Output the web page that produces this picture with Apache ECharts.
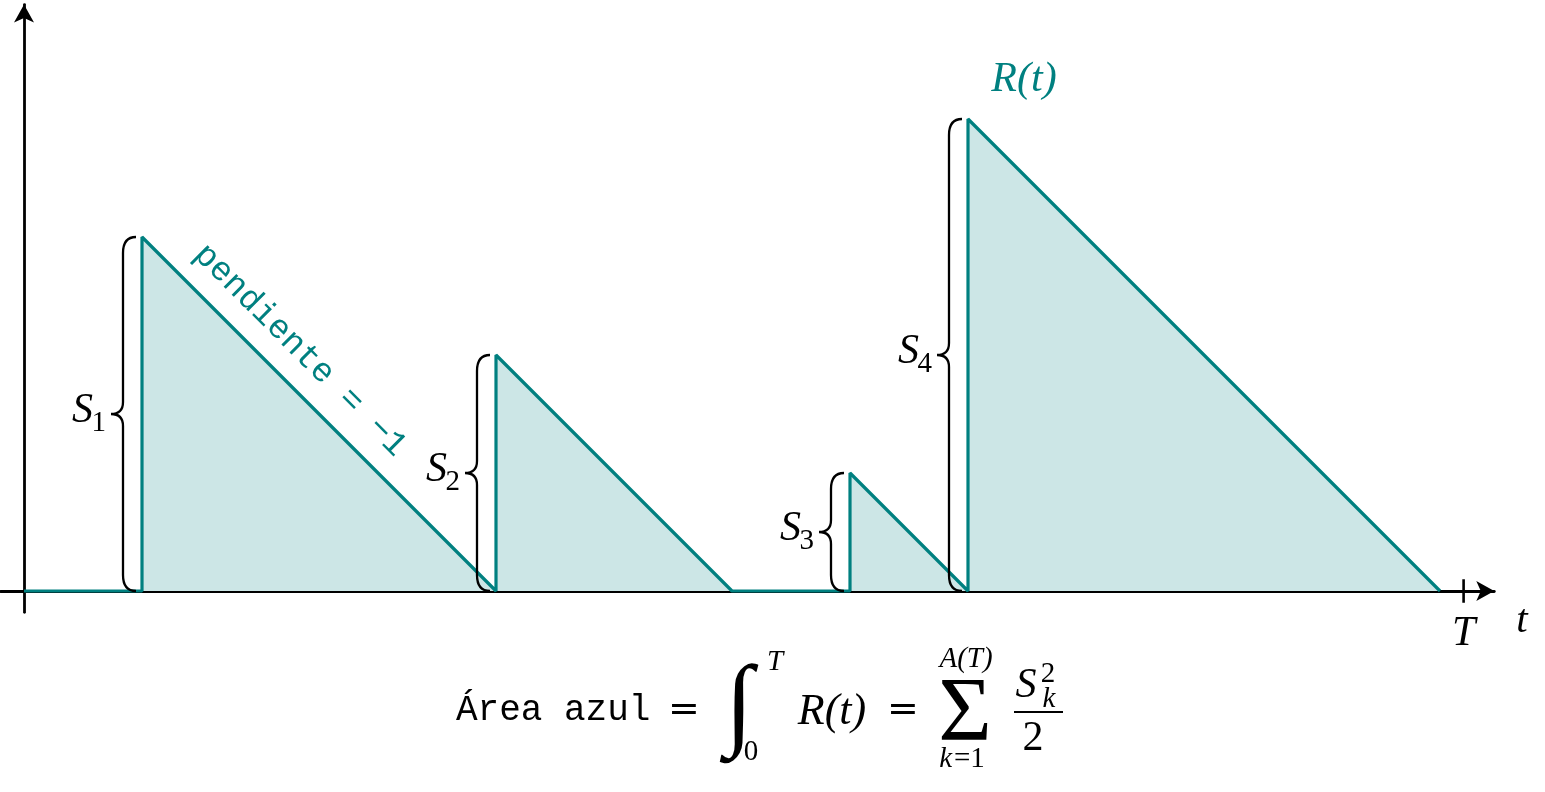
<!DOCTYPE html>
<html><head><meta charset="utf-8">
<script src="https://cdn.jsdelivr.net/npm/echarts@6/dist/echarts.min.js"></script>
<style>html,body{margin:0;padding:0;background:#fff}#c{width:1545px;height:792px}</style>
</head><body><div id="c"></div>
<script>
// ---- data ----
const pathT = [0, 1, 1, 4, 4, 6, 7, 7, 8, 8, 12];
const pathR = [0, 0, 3, 0, 2, 0, 0, 1, 0, 4, 0];
const jumpTimes = [1, 4, 7, 8];
const jumpSizes = [3, 2, 1, 4];
const jumpNames = ['1', '2', '3', '4'];
const horizonT = 12.2;
const xRange = [-0.2, 12.46];
const yRange = [-0.18, 4.97];

// ---- layout ----
const U = 118, OX = 24, OY = 591;
const TEAL = '#008080';
const SERIF = 'Liberation Serif';
const MONO = 'Liberation Mono';

const chart = echarts.init(document.getElementById('c'), null, {renderer: 'canvas'});

const gridLeft = OX + xRange[0] * U;
const gridTop = OY - yRange[1] * U;
const gridW = (xRange[1] - xRange[0]) * U;
const gridH = (yRange[1] - yRange[0]) * U;

function T(text, x, y, o) {
  return Object.assign({type: 'text', x: x, y: y}, o && o.el || {}, {style: Object.assign({
    text: text, fill: '#000', fontFamily: SERIF, fontStyle: 'italic', fontSize: 41,
    align: 'center', verticalAlign: 'middle'
  }, o && o.s || {})});
}
const up = {fontStyle: 'normal'};
const small = {fontSize: 29};

const braceData = jumpTimes.map((t, i) => [t, jumpSizes[i], i]);
const lbl = {show: true, position: 'inside', fontFamily: SERIF, fontStyle: 'italic', fontSize: 42, opacity: 1};

chart.setOption({
  animation: false,
  grid: {left: gridLeft, top: gridTop, width: gridW, height: gridH},
  xAxis: {
    type: 'value', min: xRange[0], max: xRange[1],
    splitLine: {show: false}, axisTick: {show: false}, axisLabel: {show: false},
    axisLine: {onZero: true, lineStyle: {color: '#000', width: 2.8}, symbol: ['none', 'arrow'], symbolSize: [15, 18]},
    name: 't', nameLocation: 'end', nameGap: 22,
    nameTextStyle: {fontFamily: SERIF, fontStyle: 'italic', fontSize: 41, color: '#000', align: 'left', verticalAlign: 'top', padding: [10, 0, 0, 0]}
  },
  yAxis: {
    type: 'value', min: yRange[0], max: yRange[1],
    splitLine: {show: false}, axisTick: {show: false}, axisLabel: {show: false},
    axisLine: {onZero: true, lineStyle: {color: '#000', width: 2.8}, symbol: ['none', 'arrow'], symbolSize: [15, 18]}
  },
  series: [
    {
      type: 'line', data: pathT.map((t, i) => [t, pathR[i]]), symbol: 'none', z: 3,
      lineStyle: {color: TEAL, width: 3.2}, areaStyle: {color: '#cce6e6', opacity: 1}
    },
    { // tick at T
      type: 'line', data: [[horizonT, -0.1], [horizonT, 0.1]], symbol: 'none', z: 3,
      lineStyle: {color: '#000', width: 2.6}
    },
    { // braces
      type: 'custom', data: braceData, z: 4,
      renderItem: function (params, api) {
        const t = api.value(0), s = api.value(1), idx = api.value(2);
        const b = api.coord([t, 0]), tp = api.coord([t, s]);
        const x = b[0];
        const xe = x - 6, xm = x - 19, xt = x - 31;
        const yb = b[1], yt = tp[1], ym = (yb + yt) / 2, r = 16, rm = 12;
        const d = `M${xe} ${yb} Q${xm} ${yb} ${xm} ${yb - r} L${xm} ${ym + rm} Q${xm} ${ym} ${xt} ${ym} ` +
                  `Q${xm} ${ym} ${xm} ${ym - rm} L${xm} ${yt + r} Q${xm} ${yt} ${xe} ${yt}`;
        return {type: 'group', children: [
          {type: 'path', shape: {pathData: d}, style: {fill: 'none', stroke: '#000', lineWidth: 2.3}},
          {type: 'text', x: xt - 18, y: ym - 3, style: {text: 'S', fontFamily: SERIF, fontStyle: 'italic', fontSize: 42, fill: '#000', align: 'right', verticalAlign: 'middle'}},
          {type: 'text', x: xt - 5, y: ym + 9, style: {text: jumpNames[idx], fontFamily: SERIF, fontSize: 29, fill: '#000', align: 'right', verticalAlign: 'middle'}}
        ]};
      }
    },
    { // text labels anchored to data
      type: 'scatter', symbolSize: 0, clip: false, z: 5, silent: true,
      itemStyle: {opacity: 1},
      data: [
        {value: [horizonT, 0], label: Object.assign({}, lbl, {formatter: 'T', offset: [0, 43], color: '#000'})},
        {value: [jumpTimes[3], jumpSizes[3]], label: Object.assign({}, lbl, {formatter: 'R(t)', offset: [56, -39], color: TEAL})},
        {value: [2.34, 2.04], label: Object.assign({}, lbl, {formatter: 'pendiente = −1', rotate: -45, fontFamily: MONO, fontStyle: 'normal', fontSize: 34, color: TEAL})}
      ]
    }
  ],
  graphic: [
    T('Área azul', 456, 710, {s: {fontFamily: MONO, fontStyle: 'normal', fontSize: 36, align: 'left'}}),
    T('=', 684, 711, {s: {fontFamily: 'DejaVu Serif', fontStyle: 'normal', fontSize: 38}}),
    T('∫', 739, 709, {s: {fontSize: 102}}),
    T('T', 775, 662, {s: small}),
    T('0', 751, 752, {s: Object.assign({}, small, up)}),
    T('R(t)', 832, 712, {s: {fontSize: 44}}),
    T('=', 903, 711, {s: {fontFamily: 'DejaVu Serif', fontStyle: 'normal', fontSize: 38}}),
    T('Σ', 965, 716, {s: {fontStyle: 'normal', fontSize: 92}}),
    T('A(T)', 966, 659, {s: small}),
    T('k', 952, 759, {s: Object.assign({}, small, {align: 'right'})}),
    T('=1', 954, 759, {s: Object.assign({}, small, up, {align: 'left'})}),
    T('S', 1026, 686, {s: {fontSize: 42}}),
    T('2', 1048, 674, {s: Object.assign({}, small, up)}),
    T('k', 1049, 699, {s: small}),
    {type: 'line', shape: {x1: 1014, y1: 712, x2: 1063, y2: 712}, style: {stroke: '#000', lineWidth: 2}},
    T('2', 1033, 739, {s: {fontStyle: 'normal', fontSize: 42}})
  ]
});
</script>
</body></html>
